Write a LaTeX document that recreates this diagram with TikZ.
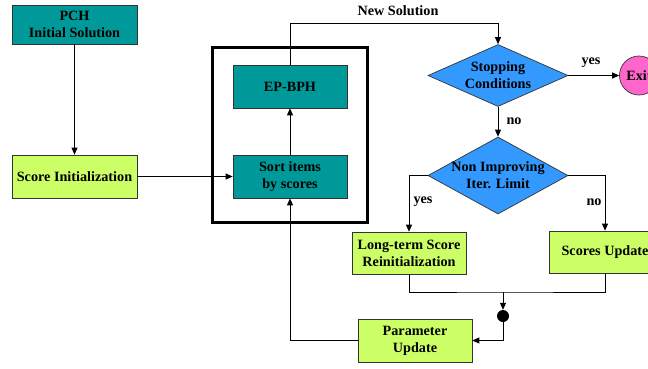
\documentclass[tikz,border=0pt]{standalone}
\usepackage{fontspec}
\setmainfont{Liberation Serif}
\usetikzlibrary{shapes.geometric,arrows.meta}
\definecolor{tealbox}{HTML}{009999}
\definecolor{limebox}{HTML}{CCFF66}
\definecolor{bluedia}{HTML}{3399FF}
\definecolor{pinkexit}{HTML}{FF66CC}
\definecolor{edgegrey}{HTML}{333333}
\tikzset{
  txt/.style={font=\bfseries\fontsize{14.2}{17}\selectfont, align=center, text=black},
  tealnode/.style={txt, rectangle, draw=edgegrey, line width=0.7pt, fill=tealbox, inner sep=0pt, minimum width=114pt, minimum height=43pt},
  limenode/.style={txt, rectangle, draw=edgegrey, line width=0.7pt, fill=limebox, inner sep=0pt, minimum width=114pt, minimum height=43pt},
  decision/.style={txt, diamond, draw=edgegrey, line width=0.7pt, fill=bluedia, inner sep=-5pt},
  conn/.style={draw=black, line width=0.8pt},
  arr/.style={conn, -{Triangle[length=7pt,width=6pt]}},
  lbl/.style={txt, inner sep=1pt}
}
\begin{document}
\begin{tikzpicture}[x=1pt,y=-1pt]
\useasboundingbox (0,0) rectangle (648,368);
\clip (0,0) rectangle (648,368);
% big frame
\node[draw=black, line width=3pt, rectangle, minimum width=155pt, minimum height=175pt, inner sep=0pt] (frame) at (289.5,134.5) {};
% nodes
\node[tealnode, minimum width=125pt, minimum height=39pt] (pch) at (74.5,24.5) {PCH\\Initial Solution};
\node[limenode, minimum width=125pt] (si) at (74.5,176.5) {Score Initialization};
\node[tealnode] (ep) at (290,86.5) {EP-BPH};
\node[tealnode] (sort) at (290,176.5) {Sort items\\by scores};
\node[decision, shape aspect=2.26, minimum width=140pt, minimum height=62pt] (stop) at (498,75.5) {Stopping\\Conditions};
\node[txt, circle, draw=edgegrey, line width=0.7pt, fill=pinkexit, minimum size=39pt, inner sep=0pt] (exit) at (639,75.5) {Exit};
\node[decision, shape aspect=1.82, minimum width=140pt, minimum height=77pt] (ni) at (498,175.5) {Non Improving\\Iter. Limit};
\node[limenode, minimum height=42pt] (lt) at (409,253) {Long-term Score\\Reinitialization};
\node[limenode, minimum width=112pt, minimum height=42pt] (su) at (605,252) {Scores Update};
\node[circle, fill=black, minimum size=12pt, inner sep=0pt] (dot) at (503,316) {};
\node[limenode] (pu) at (415,340.5) {Parameter\\Update};
% coordinates
\coordinate (top) at (290,23);
\coordinate (join) at (503,292);
% connectors
\draw[arr] (pch.south) -- (si.north);
\draw[arr] (si.east) -- (sort.west);
\draw[arr] (sort.north) -- (ep.south);
\draw[arr] (ep.north) -- (top) -| (stop.north);
\node[lbl] (newsol) at (398,11) {New Solution};
\draw[arr] (stop.east) -- (exit.west);
\node[lbl] (yes1) at (591,63) {yes};
\draw[arr] (stop.south) -- (ni.north);
\node[lbl] (no1) at (514,121) {no};
\draw[arr] (ni.west) -| (lt.north);
\node[lbl] (yes2) at (423,202) {yes};
\draw[arr] (ni.east) -| (su.north);
\node[lbl] (no2) at (594,202) {no};
\draw[conn] (lt.south) |- (join) -| (su.south);
\draw[arr] (join) -- (dot.north);
\draw[arr] (dot.center) |- (pu.east);
\draw[arr] (pu.west) -| (sort.south);
\end{tikzpicture}
\end{document}
